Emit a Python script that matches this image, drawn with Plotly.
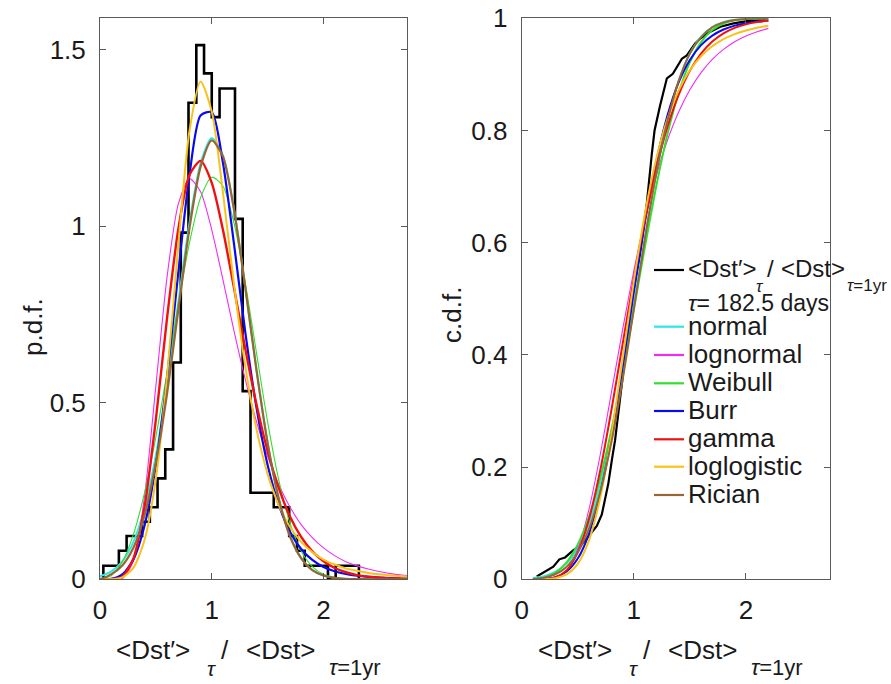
import plotly.graph_objects as go

W, H = 891, 684
FONT = "Liberation Sans, Arial, Helvetica, sans-serif"
TXT = "#1a1a1a"

# ---------------- data ----------------
# histogram of <Dst'>_tau / <Dst>_{tau=1yr}  (tau = 182.5 days), pdf-normalised
bin_edges = [0.030, 0.099, 0.169, 0.238, 0.307, 0.377, 0.446, 0.515, 0.584, 0.654,
             0.723, 0.792, 0.862, 0.931, 1.000, 1.070, 1.139, 1.208, 1.277, 1.347,
             1.416, 1.485, 1.555, 1.624, 1.693, 1.763, 1.832, 1.901, 1.970, 2.040,
             2.109, 2.178, 2.248, 2.317]
hist_density = [0.0385, 0.0385, 0.081, 0.1225, 0.1225, 0.163, 0.204, 0.286, 0.368, 0.614,
                0.982, 1.350, 1.513, 1.433, 1.309, 1.390, 1.390, 1.021, 0.533, 0.245,
                0.245, 0.245, 0.204, 0.204, 0.1225, 0.081, 0.0385, 0.0385, 0.0385, 0.0,
                0.0385, 0.0385, 0.0385]

pdf_x = [0.0, 0.1, 0.2, 0.3, 0.4, 0.5, 0.6, 0.7, 0.8, 0.9, 1.0, 1.1, 1.2, 1.3, 1.4,
         1.5, 1.6, 1.7, 1.8, 1.9, 2.0, 2.1, 2.2, 2.3, 2.4, 2.5, 2.6, 2.7, 2.8]
pdf_normal = [0.0086, 0.0219, 0.0507, 0.1066, 0.203, 0.351, 0.550, 0.782, 1.008, 1.178,
              1.250, 1.201, 1.048, 0.829, 0.595, 0.387, 0.228, 0.122, 0.059, 0.026,
              0.0104, 0.0038, 0.0012, 0.0004, 0.0001, 0.0, 0.0, 0.0, 0.0]
pdf_lognormal = [0.0, 0.0, 0.0025, 0.0518, 0.239, 0.548, 0.856, 1.062, 1.135, 1.098,
                 0.990, 0.849, 0.702, 0.566, 0.447, 0.348, 0.268, 0.205, 0.155, 0.118,
                 0.089, 0.067, 0.050, 0.038, 0.029, 0.022, 0.016, 0.012, 0.009]
pdf_weibull = [0.0, 0.0098, 0.0498, 0.128, 0.247, 0.403, 0.586, 0.778, 0.952, 1.081,
               1.139, 1.114, 1.008, 0.840, 0.642, 0.446, 0.281, 0.159, 0.080, 0.036,
               0.014, 0.005, 0.0014, 0.0004, 0.0001, 0.0, 0.0, 0.0, 0.0]
pdf_burr = [0.0, 0.0012, 0.0139, 0.057, 0.154, 0.324, 0.571, 0.867, 1.144, 1.314,
            1.323, 1.180, 0.948, 0.700, 0.487, 0.324, 0.211, 0.135, 0.086, 0.055,
            0.035, 0.023, 0.015, 0.010, 0.0067, 0.0046, 0.0031, 0.0021, 0.0015]
pdf_gamma = [0.0, 0.0001, 0.0076, 0.060, 0.208, 0.453, 0.740, 0.990, 1.145, 1.185,
             1.123, 0.990, 0.824, 0.653, 0.496, 0.363, 0.258, 0.178, 0.120, 0.079,
             0.051, 0.032, 0.020, 0.012, 0.0076, 0.0045, 0.0027, 0.0016, 0.0009]
pdf_loglogistic = [0.0, 0.0003, 0.0057, 0.033, 0.113, 0.285, 0.574, 0.943, 1.269, 1.410,
                   1.325, 1.096, 0.833, 0.603, 0.426, 0.298, 0.210, 0.148, 0.106, 0.077,
                   0.056, 0.042, 0.031, 0.024, 0.018, 0.014, 0.011, 0.0088, 0.0070]
pdf_rician = [0.0, 0.014, 0.039, 0.090, 0.183, 0.330, 0.525, 0.761, 0.993, 1.168,
              1.243, 1.198, 1.045, 0.827, 0.593, 0.386, 0.228, 0.122, 0.060, 0.026,
              0.011, 0.004, 0.0013, 0.0004, 0.0001, 0.0, 0.0, 0.0, 0.0]

# empirical cdf
ecdf_x = [0.134, 0.208, 0.282, 0.336, 0.387, 0.461, 0.521, 0.595, 0.670, 0.714,
          0.744, 0.773, 0.804, 0.833, 0.900, 0.982, 1.056, 1.116, 1.161, 1.185,
          1.235, 1.295, 1.348, 1.429, 1.473, 1.547, 1.592, 1.682, 1.771, 1.890,
          2.009, 2.172]
ecdf_y = [0.005, 0.0135, 0.0225, 0.0356, 0.039, 0.052, 0.059, 0.076, 0.095, 0.115,
          0.141, 0.171, 0.2125, 0.248, 0.360, 0.498, 0.581, 0.670, 0.759, 0.800,
          0.845, 0.893, 0.901, 0.928, 0.934, 0.955, 0.964, 0.976, 0.985, 0.991,
          0.995, 0.998]

cdf_x = [0.1, 0.2, 0.3, 0.4, 0.5, 0.6, 0.7, 0.8, 0.9, 1.0, 1.1,
         1.2, 1.3, 1.4, 1.5, 1.6, 1.7, 1.8, 1.9, 2.0, 2.1, 2.2]
cdf_normal = [0.0022, 0.0057, 0.0133, 0.0283, 0.0555, 0.1001, 0.1663, 0.2559, 0.3655, 0.4876, 0.6107,
              0.7237, 0.8176, 0.8885, 0.9371, 0.9674, 0.9845, 0.9932, 0.9973, 0.9990, 0.9997, 0.9999]
cdf_lognormal = [0.0, 0.0001, 0.0020, 0.0152, 0.0539, 0.1247, 0.2216, 0.3326, 0.4449, 0.5497, 0.6418,
                 0.7193, 0.7826, 0.8330, 0.8726, 0.9032, 0.9267, 0.9446, 0.9582, 0.9684, 0.9761, 0.9820]
cdf_weibull = [0.0003, 0.0030, 0.0115, 0.0299, 0.0622, 0.1115, 0.1797, 0.2664, 0.3685, 0.4803, 0.5937,
               0.7003, 0.7931, 0.8672, 0.9215, 0.9576, 0.9792, 0.9908, 0.9964, 0.9987, 0.9996, 0.9999]
cdf_burr = [0.0, 0.0006, 0.0038, 0.0138, 0.0370, 0.0811, 0.1528, 0.2539, 0.3780, 0.5113, 0.6375,
            0.7444, 0.8267, 0.8856, 0.9257, 0.9521, 0.9691, 0.9800, 0.9869, 0.9913, 0.9942, 0.9961]
cdf_gamma = [0.0, 0.0003, 0.0033, 0.0159, 0.0481, 0.1072, 0.1937, 0.3014, 0.4191, 0.5356, 0.6419,
             0.7328, 0.8065, 0.8637, 0.9064, 0.9371, 0.9585, 0.9731, 0.9829, 0.9892, 0.9933, 0.9959]
cdf_loglogistic = [0.0, 0.0002, 0.0019, 0.0086, 0.0276, 0.0695, 0.1451, 0.2566, 0.3925, 0.5309, 0.6527,
                   0.7491, 0.8205, 0.8714, 0.9073, 0.9324, 0.9501, 0.9627, 0.9717, 0.9784, 0.9832, 0.9869]
cdf_rician = [0.0005, 0.0030, 0.0090, 0.0220, 0.0480, 0.0900, 0.1550, 0.2440, 0.3550, 0.4810, 0.6080,
              0.7230, 0.8170, 0.8880, 0.9370, 0.9660, 0.9840, 0.9927, 0.9970, 0.9989, 0.9996, 0.9999]

fit_names = ["normal", "lognormal", "Weibull", "Burr", "gamma", "loglogistic", "Rician"]
fit_colors = ["#2FE6E6", "#F22CF2", "#2FE02F", "#0A0AF0", "#F01010", "#F7C21A", "#996633"]
pdf_width = [2.0, 1.1, 1.1, 2.2, 2.4, 2.0, 2.2]
cdf_width = [2.0, 1.1, 2.0, 2.0, 2.0, 2.0, 2.0]
pdf_fits = [pdf_normal, pdf_lognormal, pdf_weibull, pdf_burr, pdf_gamma, pdf_loglogistic, pdf_rician]
cdf_fits = [cdf_normal, cdf_lognormal, cdf_weibull, cdf_burr, cdf_gamma, cdf_loglogistic, cdf_rician]

pdf_ticks = [0, 0.5, 1, 1.5]
pdf_ticktext = ["0", "0.5", "1", "1.5"]
cdf_ticks = [0, 0.2, 0.4, 0.6, 0.8, 1.0]
cdf_ticktext = ["0", "0.2", "0.4", "0.6", "0.8", "1"]
x_ticks = [0, 1, 2]
x_ticktext = ["0", "1", "2"]

# ---------------- figure ----------------
def PX(x):
    return x / W

def PY(y):
    return 1 - y / H

fig = go.Figure()

# histogram outline as stairs
hx = [bin_edges[0], bin_edges[0]] + bin_edges[1:-1] + [bin_edges[-1]]
hy = [0.0] + hist_density + [0.0]
fig.add_trace(go.Scatter(x=hx, y=hy, mode="lines", line=dict(color="black", width=2.6, shape="hv"),
                         xaxis="x", yaxis="y", showlegend=False, hoverinfo="skip"))
for name, col, wd, vals in zip(fit_names, fit_colors, pdf_width, pdf_fits):
    fig.add_trace(go.Scatter(x=pdf_x, y=vals, mode="lines", name=name,
                             line=dict(color=col, width=wd, shape="spline", smoothing=0.7),
                             xaxis="x", yaxis="y", showlegend=False))

fig.add_trace(go.Scatter(x=ecdf_x, y=ecdf_y, mode="lines", line=dict(color="black", width=2.2),
                         xaxis="x2", yaxis="y2", showlegend=False))
for name, col, wd, vals in zip(fit_names, fit_colors, cdf_width, cdf_fits):
    fig.add_trace(go.Scatter(x=cdf_x, y=vals, mode="lines", name=name,
                             line=dict(color=col, width=wd, shape="spline", smoothing=0.7),
                             xaxis="x2", yaxis="y2", showlegend=False))

axis_common = dict(showgrid=False, zeroline=False, showline=True, linecolor="#5a5a5a", linewidth=1,
                   mirror="ticks", ticks="inside", ticklen=6, tickcolor="#5a5a5a", automargin=False,
                   tickfont=dict(family=FONT, size=26, color=TXT))

ydom = [PY(579.3), PY(18.3)]
fig.update_layout(
    width=W, height=H,
    margin=dict(l=0, r=0, t=0, b=0, autoexpand=False),
    paper_bgcolor="white", plot_bgcolor="white",
    showlegend=False,
    xaxis=dict(domain=[PX(100), PX(407.3)], range=[0, 2.75], tickvals=x_ticks, ticktext=x_ticktext,
               anchor="y", ticklabelstandoff=7, **axis_common),
    yaxis=dict(domain=ydom, range=[0, 1.589], tickvals=pdf_ticks, ticktext=pdf_ticktext,
               anchor="x", ticklabelstandoff=8, **axis_common),
    xaxis2=dict(domain=[PX(521.7), PX(830)], range=[0, 2.75], tickvals=x_ticks, ticktext=x_ticktext,
                anchor="y2", ticklabelstandoff=7, **axis_common),
    yaxis2=dict(domain=ydom, range=[0, 1], tickvals=cdf_ticks, ticktext=cdf_ticktext,
                anchor="x2", ticklabelstandoff=8, **axis_common),
)

ann = []

def text(x, y, s, size, anchor="left", angle=0):
    ann.append(dict(x=PX(x), y=PY(y), xref="paper", yref="paper", text=s, showarrow=False,
                    xanchor=anchor, yanchor="middle", textangle=angle, borderpad=0,
                    font=dict(family=FONT, size=size, color=TXT)))

# x-axis labels
for off in (0, 421.7):
    text(115 + off, 650, "&lt;Dst′&gt;", 26)
    text(206 + off, 668, "<i>τ</i>", 21)
    text(220 + off, 650, "/", 26)
    text(245 + off, 650, "&lt;Dst&gt;", 26)
    text(328 + off, 667, "<i>τ</i>=1yr", 22)

# y-axis labels
text(33, 327, "p.d.f.", 26, anchor="center", angle=-90)
text(452, 315, "c.d.f.", 26, anchor="center", angle=-90)

# legend (inside right axes)
shapes = []
leg_x0, leg_x1, leg_tx = 654, 684, 687
shapes.append(dict(type="line", xref="paper", yref="paper", x0=PX(leg_x0), x1=PX(leg_x1),
                   y0=PY(270), y1=PY(270), line=dict(color="black", width=2.2)))
text(leg_tx, 268, "&lt;Dst′&gt;", 24)
text(755, 287, "<i>τ</i>", 17)
text(766, 268, "/", 24)
text(780, 268, "&lt;Dst&gt;", 24)
text(846, 285, "<i>τ</i>=1yr", 17)
text(leg_tx, 303, "<i>τ</i>= 182.5 days", 23)
leg_y = [326.7, 355, 383.3, 411, 439.3, 466.7, 495]
for name, col, yy in zip(fit_names, fit_colors, leg_y):
    shapes.append(dict(type="line", xref="paper", yref="paper", x0=PX(leg_x0), x1=PX(leg_x1),
                       y0=PY(yy), y1=PY(yy), line=dict(color=col, width=2.2)))
    text(leg_tx, yy - 1, name, 26)

fig.update_layout(annotations=ann, shapes=shapes)
fig.write_html("out.html", config={"displayModeBar": False},
               post_script="document.body.style.margin='0px';document.body.style.overflow='hidden';")
